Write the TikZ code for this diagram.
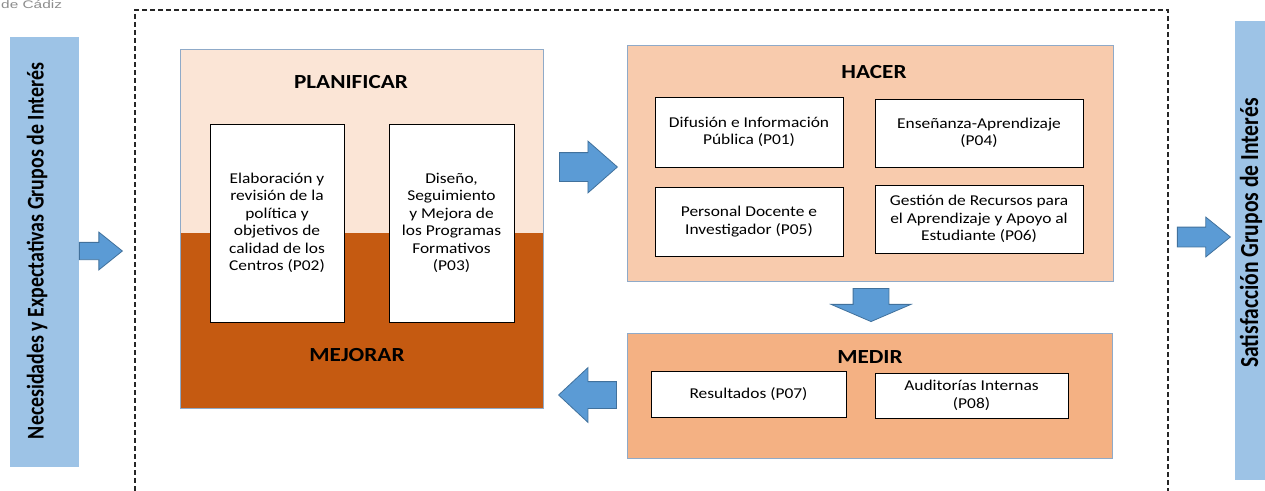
\documentclass[tikz,border=0pt]{standalone}
\usepackage{fontspec}
\setmainfont{Carlito}[FakeStretch=1.16]
\newfontfamily\sidefont{Carlito}[FakeStretch=0.83]
\newfontfamily\logofont{Liberation Sans}[FakeStretch=1.4]
\usetikzlibrary{shapes.arrows}

\definecolor{barblue}{HTML}{9DC3E6}
\definecolor{planfill}{HTML}{FBE5D6}
\definecolor{mejfill}{HTML}{C55A11}
\definecolor{hacfill}{HTML}{F8CBAD}
\definecolor{medfill}{HTML}{F4B183}
\definecolor{arrowfill}{HTML}{5B9BD5}
\definecolor{arrowline}{HTML}{41719C}
\definecolor{stageline}{HTML}{8FAAC8}

\tikzset{
  stage/.style={draw=stageline, line width=1pt, rectangle, inner sep=0pt},
  process/.style={draw, rectangle, fill=white, line width=0.9pt, align=center, inner sep=0pt, font=\fontsize{15}{17.5}\selectfont},
  stagetitle/.style={inner sep=0pt, font=\fontsize{20}{24}\selectfont\bfseries},
  blockarrow/.style={single arrow, draw=arrowline, fill=arrowfill, line width=0.8pt, inner xsep=0pt, anchor=tip}
}

\begin{document}
\begin{tikzpicture}[x=1pt, y=-1pt]
        \useasboundingbox (0,0) rectangle (1265,490);

        \node[anchor=base west, inner sep=0pt, text=black!45, font=\logofont\fontsize{11}{12}\selectfont] (uca_logo) at (1,8.5) {de Cádiz};

        % side bars
        \node[fill=barblue, rectangle, minimum width=69pt, minimum height=430pt, inner sep=0pt] (lbar) at (44.5,252) {};
        \node[rotate=90, inner sep=0pt, font=\sidefont\fontsize{24}{28}\selectfont\bfseries] (lbar_text) at (37,251) {Necesidades y Expectativas Grupos de Interés};

        \node[fill=barblue, rectangle, minimum width=60pt, minimum height=459pt, inner sep=0pt] (rbar) at (1265,250.5) {};
        \node[rotate=90, inner sep=0pt, font=\sidefont\fontsize{26}{30}\selectfont\bfseries] (rbar_text) at (1251,233) {Satisfacción Grupos de Interés};

        % dashed frame
        \node[draw, dashed, dash pattern=on 5pt off 3pt, line width=1.2pt, black!85, rectangle, minimum width=1033pt, minimum height=490pt, inner sep=0pt] (frame) at (651.5,255) {};

        % planificar / mejorar
        \node[stage, fill=planfill, minimum width=363pt, minimum height=359pt,
              path picture={\fill[mejfill] ([yshift=-4.5pt]path picture bounding box.west) rectangle (path picture bounding box.south east);}] (plan) at (361.5,228.5) {};
        \node[stagetitle] (plan_title) at (351,82) {PLANIFICAR};
        \node[stagetitle] (mej_title) at (357,355) {MEJORAR};
        \node[process, minimum width=134pt, minimum height=198pt] (p02) at (277,223) {Elaboración y\\revisión de la\\política y\\objetivos de\\calidad de los\\Centros (P02)};
        \node[process, minimum width=125pt, minimum height=198pt] (p03) at (451.5,223) {Diseño,\\Seguimiento\\y Mejora de\\los Programas\\Formativos\\(P03)};

        % hacer
        \node[stage, fill=hacfill, minimum width=486pt, minimum height=236pt] (hacer) at (870,163) {};
        \node[stagetitle] (hacer_title) at (874,72) {HACER};
        \node[process, minimum width=188pt, minimum height=70pt] (p01) at (749,132) {Difusión e Información\\Pública (P01)};
        \node[process, minimum width=208pt, minimum height=68pt] (p04) at (979,133) {Enseñanza-Aprendizaje\\(P04)};
        \node[process, minimum width=188pt, minimum height=69pt] (p05) at (749,221.5) {Personal Docente e\\Investigador (P05)};
        \node[process, minimum width=208pt, minimum height=68pt] (p06) at (979,219) {Gestión de Recursos para\\el Aprendizaje y Apoyo al\\Estudiante (P06)};

        % medir
        \node[stage, fill=medfill, minimum width=485pt, minimum height=125pt] (medir) at (869.5,395.5) {};
        \node[stagetitle] (medir_title) at (870,357) {MEDIR};
        \node[process, minimum width=195pt, minimum height=46pt] (p07) at (748.5,394) {Resultados (P07)};
        \node[process, minimum width=193pt, minimum height=45pt] (p08) at (971.5,395.5) {Auditorías Internas\\(P08)};

        % block arrows
        \node[blockarrow, minimum height=43pt, inner ysep=8.25pt, single arrow head extend=10.25pt, single arrow tip angle=77.6] (in_arrow) at (123,251) {};
        \node[blockarrow, minimum height=58pt, inner ysep=14pt, single arrow head extend=11.5pt, single arrow tip angle=82.6] (plan_hacer) at (618,167) {};
        \node[blockarrow, rotate=-90, minimum height=33pt, inner ysep=17.5pt, single arrow head extend=22pt, single arrow tip angle=133.4] (hacer_medir) at (871,322) {};
        \node[blockarrow, rotate=180, minimum height=58pt, inner ysep=13pt, single arrow head extend=14pt, single arrow tip angle=86] (medir_mej) at (558,395) {};
        \node[blockarrow, minimum height=53pt, inner ysep=9.5pt, single arrow head extend=10pt, single arrow tip angle=78] (out_arrow) at (1231,237) {};
\end{tikzpicture}
\end{document}
